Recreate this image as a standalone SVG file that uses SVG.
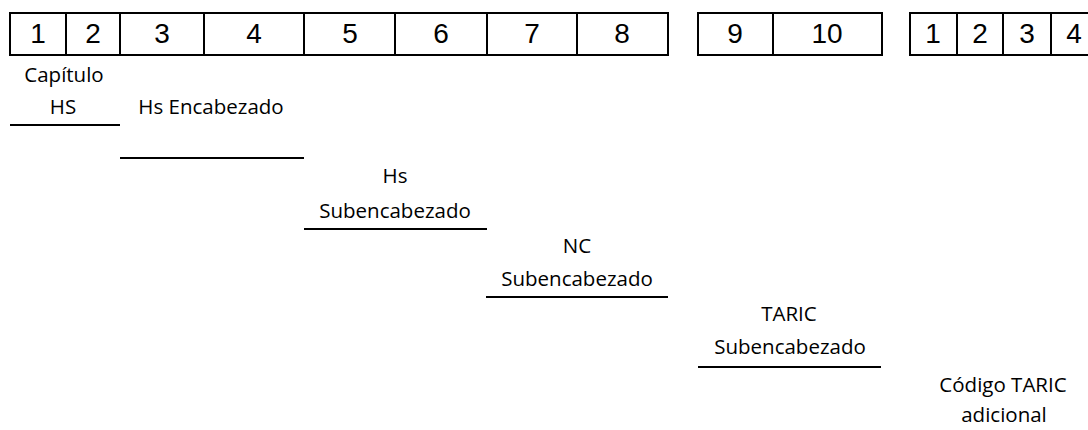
<svg xmlns="http://www.w3.org/2000/svg" width="1088" height="430" viewBox="0 0 1088 430">
  <style>
    .cell { fill: #ffffff; stroke: #000000; stroke-width: 2; }
    .div { stroke: #000000; stroke-width: 2; }
    .digit { font-family: "Liberation Sans", Arial, sans-serif; font-size: 28px; fill: #000000; text-anchor: middle; }
    .lbl { font-family: "Open Sans", "Noto Sans", sans-serif; font-size: 20.5px; fill: #000000; text-anchor: middle; }
    .rule { stroke: #000000; stroke-width: 2; }
  </style>
  <rect width="1088" height="430" fill="#ffffff"/>

  <!-- Digit positions 1-8 (HS / CN) -->
  <g id="code-cn">
    <rect class="cell" x="10" y="13" width="658" height="42"/>
    <line class="div" x1="66" y1="13" x2="66" y2="55"/>
    <line class="div" x1="120" y1="13" x2="120" y2="55"/>
    <line class="div" x1="204" y1="13" x2="204" y2="55"/>
    <line class="div" x1="304" y1="13" x2="304" y2="55"/>
    <line class="div" x1="395" y1="13" x2="395" y2="55"/>
    <line class="div" x1="487" y1="13" x2="487" y2="55"/>
    <line class="div" x1="577" y1="13" x2="577" y2="55"/>
    <text class="digit" x="38" y="43">1</text>
    <text class="digit" x="93" y="43">2</text>
    <text class="digit" x="162" y="43">3</text>
    <text class="digit" x="254" y="43">4</text>
    <text class="digit" x="350" y="43">5</text>
    <text class="digit" x="441" y="43">6</text>
    <text class="digit" x="532" y="43">7</text>
    <text class="digit" x="622" y="43">8</text>
  </g>

  <!-- Digit positions 9-10 (TARIC) -->
  <g id="code-taric">
    <rect class="cell" x="698" y="13" width="184" height="42"/>
    <line class="div" x1="773" y1="13" x2="773" y2="55"/>
    <text class="digit" x="735" y="43">9</text>
    <text class="digit" x="827" y="43">10</text>
  </g>

  <!-- Additional code digits 1-4 -->
  <g id="code-additional">
    <rect class="cell" x="910" y="13" width="190" height="42"/>
    <line class="div" x1="957" y1="13" x2="957" y2="55"/>
    <line class="div" x1="1003" y1="13" x2="1003" y2="55"/>
    <line class="div" x1="1051" y1="13" x2="1051" y2="55"/>
    <text class="digit" x="933" y="43">1</text>
    <text class="digit" x="980" y="43">2</text>
    <text class="digit" x="1027" y="43">3</text>
    <text class="digit" x="1074" y="43">4</text>
  </g>

  <!-- Level labels -->
  <g id="label-chapter">
    <text class="lbl" x="64" y="82">Capítulo</text>
    <text class="lbl" x="63" y="114">HS</text>
  </g>
  <g id="label-heading">
    <text class="lbl" x="211" y="114">Hs Encabezado</text>
  </g>
  <g id="label-hs-subheading">
    <text class="lbl" x="395" y="183">Hs</text>
    <text class="lbl" x="395" y="218">Subencabezado</text>
  </g>
  <g id="label-cn-subheading">
    <text class="lbl" x="577" y="253">NC</text>
    <text class="lbl" x="577" y="286">Subencabezado</text>
  </g>
  <g id="label-taric-subheading">
    <text class="lbl" x="789" y="321">TARIC</text>
    <text class="lbl" x="790" y="354">Subencabezado</text>
  </g>
  <g id="label-additional">
    <text class="lbl" x="1003" y="392">Código TARIC</text>
    <text class="lbl" x="1004" y="422">adicional</text>
  </g>

  <!-- Step rules under each level -->
  <g id="connectors">
    <line class="rule" x1="10" y1="125" x2="120" y2="125"/>
    <line class="rule" x1="120" y1="158" x2="304" y2="158"/>
    <line class="rule" x1="304" y1="229" x2="487" y2="229"/>
    <line class="rule" x1="486" y1="297" x2="668" y2="297"/>
    <line class="rule" x1="698" y1="367" x2="881" y2="367"/>
  </g>
</svg>
